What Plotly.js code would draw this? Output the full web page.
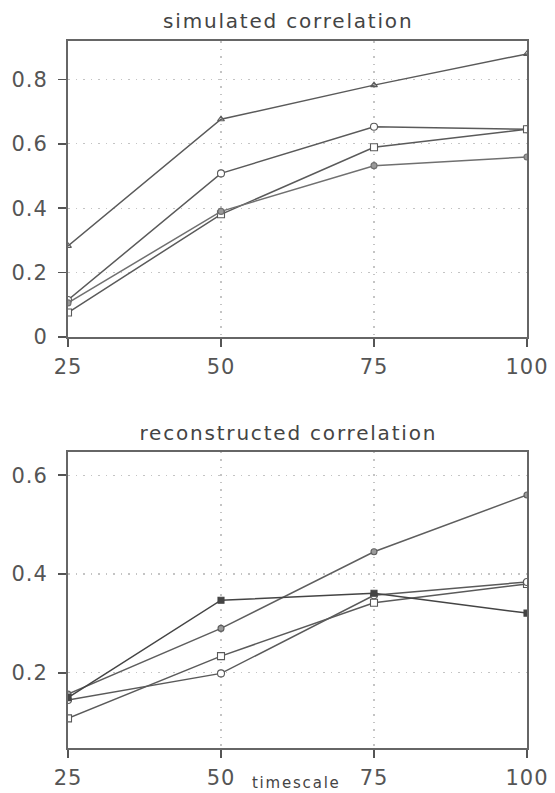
<!DOCTYPE html>
<html>
<head>
<meta charset="utf-8">
<script src="https://cdn.plot.ly/plotly-3.0.1.min.js"></script>
<style>
html,body{margin:0;padding:0;background:#fff;}
#chart{width:555px;height:793px;}
#chart .annotation-text{letter-spacing:1.8px;}
#chart .xtick text, #chart .ytick text, #chart .x2tick text, #chart .y2tick text{letter-spacing:1px;}
</style>
</head>
<body>
<div id="chart"></div>
<script>
// ---- data ----
var timescale = [25, 50, 75, 100];

// simulated correlation (top panel)
var simTriangle   = [0.283, 0.676, 0.782, 0.879];
var simCircle     = [0.115, 0.508, 0.653, 0.645];
var simSquare     = [0.076, 0.381, 0.589, 0.645];
var simGrayDot    = [0.106, 0.390, 0.532, 0.559];

// reconstructed correlation (bottom panel)
var recFilledSq   = [0.150, 0.347, 0.361, 0.321];
var recGrayDot    = [0.157, 0.290, 0.445, 0.560];
var recSquare     = [0.108, 0.234, 0.342, 0.380];
var recCircle     = [0.145, 0.199, 0.357, 0.384];

var xTicks = [25, 50, 75, 100];
var xTickText = ['25', '50', '75', '100'];
var yTicksTop = [0, 0.2, 0.4, 0.6, 0.8];
var yTickTextTop = ['0', '0.2', '0.4', '0.6', '0.8'];
var yTicksBot = [0.2, 0.4, 0.6];
var yTickTextBot = ['0.2', '0.4', '0.6'];

var lineCol = '#5a5a5a';
function tr(y, sym, mcol, lcol, axis, size) {
  return {
    x: timescale, y: y, type: 'scatter', mode: 'lines+markers',
    xaxis: axis[0], yaxis: axis[1],
    line: {color: lcol || lineCol, width: 1.5},
    marker: {symbol: sym, size: size || 8, color: mcol,
             line: {color: lcol || lineCol, width: 1.1}},
    showlegend: false, hoverinfo: 'x+y'
  };
}
var A1 = ['x', 'y'], A2 = ['x2', 'y2'];
var data = [
  tr(simTriangle, 'triangle-up-open', lineCol, null, A1, 6),
  tr(simCircle, 'circle', '#ffffff', null, A1, 7),
  tr(simSquare, 'square', '#ffffff', null, A1, 7),
  tr(simGrayDot, 'circle', '#9a9a9a', '#707070', A1, 6),
  tr(recGrayDot, 'circle', '#9a9a9a', '#5e5e5e', A2, 6),
  tr(recSquare, 'square', '#ffffff', null, A2, 7),
  tr(recCircle, 'circle', '#ffffff', null, A2, 7),
  tr(recFilledSq, 'square', '#444444', '#444444', A2, 6)
];

var tickFont = {family: 'DejaVu Sans, sans-serif', size: 21, color: '#555'};
function xax(anchor) {
  return {
    anchor: anchor, range: [25, 100], tickvals: xTicks, ticktext: xTickText,
    ticks: 'outside', ticklen: 8, tickwidth: 1.5, tickcolor: '#555',
    showline: true, linecolor: '#666', linewidth: 2, mirror: true,
    showgrid: true, gridcolor: '#c4c4c4', griddash: '1.5px,6px', gridwidth: 1.2,
    zeroline: false, tickfont: tickFont, ticklabelstandoff: 2
  };
}
function yax(anchor, dom, rng, tv, tt) {
  return {
    anchor: anchor, domain: dom, range: rng, tickvals: tv, ticktext: tt,
    ticks: 'outside', ticklen: 8, tickwidth: 1.5, tickcolor: '#555',
    showline: true, linecolor: '#666', linewidth: 2, mirror: true,
    showgrid: true, gridcolor: '#c4c4c4', griddash: '1.5px,6px', gridwidth: 1.2,
    zeroline: false, tickfont: tickFont, ticklabelstandoff: 6
  };
}

var titleFont = {family: 'DejaVu Sans, sans-serif', size: 20, color: '#444'};
var layout = {
  width: 555, height: 793,
  margin: {l: 68, r: 28, t: 41, b: 45, pad: 0},
  paper_bgcolor: '#ffffff', plot_bgcolor: '#ffffff',
  xaxis: xax('y'),
  yaxis: yax('x', [0.5813, 1], [0, 0.919], yTicksTop, yTickTextTop),
  xaxis2: xax('y2'),
  yaxis2: yax('x2', [0, 0.4187], [0.048, 0.647], yTicksBot, yTickTextBot),
  annotations: [
    {text: 'simulated correlation', xref: 'paper', yref: 'paper',
     x: 0.48, y: 1, yshift: 20, xanchor: 'center', yanchor: 'middle',
     showarrow: false, font: titleFont},
    {text: 'reconstructed correlation', xref: 'paper', yref: 'paper',
     x: 0.48, y: 0.4187, yshift: 19, xanchor: 'center', yanchor: 'middle',
     showarrow: false, font: titleFont},
    {text: 'timescale', xref: 'paper', yref: 'paper',
     x: 0.498, y: 0, yshift: -35, xanchor: 'center', yanchor: 'middle',
     showarrow: false, font: {family: 'DejaVu Sans, sans-serif', size: 15, color: '#444'}}
  ]
};

Plotly.newPlot('chart', data, layout, {displayModeBar: false, staticPlot: true});
</script>
</body>
</html>
